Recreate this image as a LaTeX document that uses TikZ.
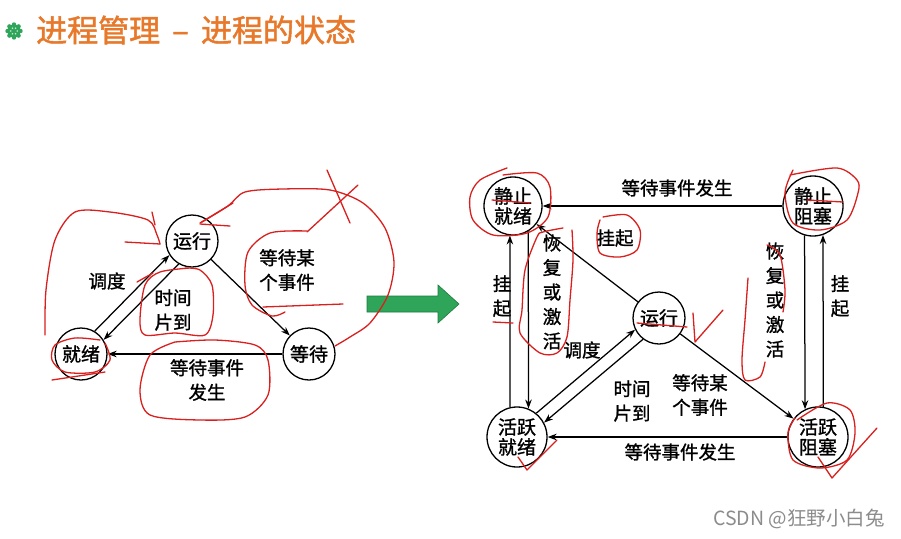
\documentclass[tikz,border=0pt]{standalone}
\usepackage{fontspec}
\newfontfamily\cjk{Noto Sans CJK SC}
\newfontfamily\cjkb{Noto Sans CJK SC}[FakeBold=1.2]
\newfontfamily\cjkt{Noto Sans CJK SC}[FakeBold=1.5]
\usetikzlibrary{arrows.meta,calc}
\definecolor{titleorange}{HTML}{E8782A}
\definecolor{arrowgreen}{HTML}{2FA55A}
\definecolor{arrowgreendark}{HTML}{1E7B3E}
\definecolor{annred}{HTML}{D8201E}
\begin{document}
\begin{tikzpicture}[x=1pt,y=-1pt,
  st/.style={circle, draw, line width=1.3pt, minimum size=50pt, inner sep=0pt,
    font=\cjkb\fontsize{19}{20}\selectfont, align=center},
  lab/.style={font=\cjkb\fontsize{18.5}{24.5}\selectfont, align=center, inner sep=0pt},
  arr/.style={-{Stealth[length=9pt,width=6.5pt]}, line width=1.25pt},
  ann/.style={annred, line width=1.3pt, line cap=round, line join=round}]
\useasboundingbox (0,0) rectangle (901,538);
\fill[white] (0,0) rectangle (901,538);

% title
\node[circle, fill=arrowgreen, minimum size=13pt, inner sep=0pt] (icon) at (14,31) {};
\foreach \a in {0,45,...,315} \fill[arrowgreen] (icon.center) ++(\a:6.5) circle (2.2);
\foreach \a in {0,60,...,300} \fill[white!70!arrowgreen] (icon.center) ++(\a:3.2) circle (0.9);
\node[anchor=west, inner sep=0pt, text=titleorange, font=\cjkt\fontsize{31}{33}\selectfont] (title) at (36,30) {进程管理 \,–\, 进程的状态};

% ---------- left diagram ----------
\node[st, minimum size=52pt] (yx) at (192,241) {运行};
\node[st, minimum size=52pt] (jx) at (81,354) {就绪};
\node[st, minimum size=52pt] (dd) at (309,354) {等待};
\draw[arr] (jx.59) -- (yx.212);
\draw[arr] (yx.240) -- (jx.32);
\draw[arr] (yx) -- (dd);
\draw[arr] (dd) -- (jx);
\node[lab] (l1) at (107,281) {调度};
\node[lab] (l2) at (173,310) {时间\\片到};
\node[lab] (l3) at (287,270) {等待某\\个事件};
\node[lab] (l4) at (207,380) {等待事件\\发生};

% green arrow
\draw[fill=arrowgreen, draw=arrowgreendark, line width=0.6pt]
  (367,296) -- (438,296) -- (438,285) -- (459,304) -- (438,323) -- (438,312) -- (367,312) -- cycle;

% ---------- right diagram ----------
\node[st, minimum size=58pt] (sj) at (513,206) {静止\\就绪};
\node[st, minimum size=60pt] (sz) at (813,206) {静止\\阻塞};
\node[st, minimum size=52pt] (yx2) at (659,318) {运行};
\node[st, minimum size=60pt] (hj) at (517,437) {活跃\\就绪};
\node[st, minimum size=60pt] (hz) at (818,437) {活跃\\阻塞};

\draw[arr] (sz) -- (sj);
\draw[arr] (yx2) -- (sj);
\draw[arr] (hj.103.5) -- (sj.264);
\draw[arr] (sj.301.1) -- (hj.68.5);
\draw[arr] (sz.254.5) -- (hz.115.7);
\draw[arr] (hz.80.4) -- (sz.289.5);
\draw[arr] (hj.51.5) -- (yx2.206.7);
\draw[arr] (yx2.233.3) -- (hj.28.5);
\draw[arr] (yx2) -- (hz);
\draw[arr] (hz) -- (hj);

\node[lab] (r1) at (677,188) {等待事件发生};
\node[lab] (r2) at (615,238) {挂起};
\node[lab] (r3) at (502,296) {挂\\起};
\node[lab] (r4) at (552,292) {恢\\复\\或\\激\\活};
\node[lab] (r5) at (775,300) {恢\\复\\或\\激\\活};
\node[lab] (r6) at (840,296) {挂\\起};
\node[lab] (r7) at (582,350) {调度};
\node[lab] (r8) at (632,401) {时间\\片到};
\node[lab] (r9) at (700,395) {等待某\\个事件};
\node[lab] (r10) at (680,452) {等待事件发生};

% watermark
\node[anchor=west, inner sep=0pt, text=black!45, font=\cjk\fontsize{19.5}{21}\selectfont] (wm) at (713,519) {CSDN @狂野小白兔};

% ---------- red annotations ----------
% left
\draw[ann] plot[smooth] coordinates {(45,335) (46,290) (55,240) (75,212) (110,212) (148,220) (157,235) (160,244)};
\draw[ann] (125,242) -- (160,244);
\draw[ann] (152,212) -- (155,225);
\draw[ann] (200,223) -- (233,203);
\draw[ann] (200,224) -- (230,226);
\draw[ann] plot[smooth] coordinates {(202,222) (228,206) (245,192) (283,189) (330,190) (363,203) (385,228) (394,262) (388,295) (370,323) (350,337) (335,346)};
\draw[ann] (327,170) -- (350,223);
\draw[ann] (358,185) -- (307,232);
\draw[ann] plot[smooth] coordinates {(307,231) (270,233) (248,252) (245,285) (252,305) (272,316) (285,312)};
\draw[ann] (263,307) -- (343,304);
\draw[ann] plot[smooth] coordinates {(190,268) (160,272) (145,285) (140,320) (145,335) (175,333) (205,335) (213,315) (212,285) (200,270) (185,268)};
\draw[ann] (137,282) -- (153,273);
\draw[ann] plot[smooth] coordinates {(175,342) (150,355) (140,390) (150,415) (200,420) (245,417) (268,395) (268,360) (255,345) (215,340) (175,342)};
\draw[ann] plot[smooth] coordinates {(100,340) (75,338) (55,345) (52,360) (65,372) (95,372) (110,360) (105,343)};
\draw[ann] (52,380) -- (105,372);
% right
\draw[ann] plot[smooth] coordinates {(503,175) (537,173) (550,187) (548,217) (527,233) (493,235) (473,220) (470,197) (480,180) (507,168)};
\draw[ann] (492,200) -- (530,203);
\draw[ann] plot[smooth] coordinates {(790,175) (837,168) (857,180) (858,193) (847,220) (820,230) (793,223) (785,193) (793,170)};
\draw[ann] (807,200) -- (843,202);
\draw[ann] plot[smooth] coordinates {(603,217) (627,215) (640,230) (637,250) (620,257) (600,253) (597,233) (600,220)};
\draw[ann] plot[smooth] coordinates {(563,228) (543,232) (537,237) (525,270) (522,310) (520,333) (540,353) (557,353) (567,337) (570,300) (573,260) (572,230)};
\draw[ann] (493,322) -- (513,323);
\draw[ann] plot[smooth] coordinates {(767,245) (780,255) (785,290) (783,312)};
\draw[ann] plot[smooth] coordinates {(748,278) (745,320) (742,360) (745,380) (760,377) (765,362)};
\draw[ann] (693,313) -- (695,342) -- (723,310);
\draw[ann] (637,323) -- (687,327);
\draw[ann] (518,457) -- (527,470) -- (557,440);
\draw[ann] plot[smooth] coordinates {(797,420) (827,403) (850,410) (855,433) (847,460) (820,468) (793,460) (788,433) (795,418)};
\draw[ann] (818,457) -- (832,478) -- (877,428);
\end{tikzpicture}
\end{document}
